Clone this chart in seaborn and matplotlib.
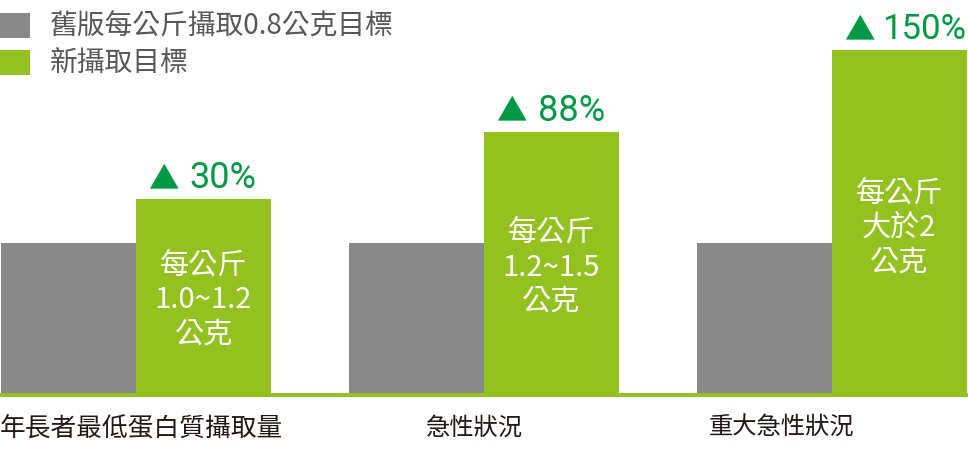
import matplotlib
matplotlib.use("Agg")
import matplotlib.pyplot as plt
import pandas as pd
import seaborn as sns

# data
categories = ["年長者最低蛋白質攝取量", "急性狀況", "重大急性狀況"]
series_names = ["舊版每公斤攝取0.8公克目標", "新攝取目標"]
old_values = [0.8, 0.8, 0.8]
new_values = [1.035, 1.394, 1.829]
increase_labels = ["30%", "88%", "150%"]
bar_texts = ["每公斤\n1.0~1.2\n公克", "每公斤\n1.2~1.5\n公克", "每公斤\n大於2\n公克"]

GRAY = "#898989"
GREEN = "#93c11f"
DARK_GREEN = "#009a44"

df = pd.DataFrame({
    "category": categories * 2,
    "series": [series_names[0]] * 3 + [series_names[1]] * 3,
    "value": old_values + new_values,
})

sns.set_style("white")
plt.rcParams["font.family"] = ["Noto Sans CJK TC", "DejaVu Sans"]

W, H = 968, 475
fig = plt.figure(figsize=(W / 100, H / 100), dpi=100)
ax = fig.add_axes([0, 78 / H, 1, 397 / H])

sns.barplot(data=df, x="category", y="value", hue="series", order=categories,
            hue_order=series_names, palette={series_names[0]: GRAY, series_names[1]: GREEN},
            width=0.776, gap=0, saturation=1, linewidth=0, ax=ax)

px_per_unit = 187.5
ax.set_xlim(-0.391, 2.391)
ax.set_ylim(-4 / px_per_unit, -4 / px_per_unit + 397 / px_per_unit)
ax.axhline(-2 / px_per_unit, color=GREEN, lw=2.9, zorder=1)
for s in ax.spines.values():
    s.set_visible(False)
ax.set_yticks([])
ax.set_ylabel("")
ax.set_xlabel("")

# category labels (offset like the original, not exactly centred)
ax.set_xticks([0.016, 0.973, 1.856])
ax.set_xticklabels(categories, color="#231815")
ax.tick_params(axis="x", length=0, pad=13)
for lbl, size in zip(ax.get_xticklabels(), [18.5, 17.5, 17.5]):
    lbl.set_fontsize(size)

# increase annotations and text inside the green bars
pct_offsets = [-14, -14, -17]
pct_sizes = [26, 26, 25]
for i, (h, pct, txt) in enumerate(zip(new_values, increase_labels, bar_texts)):
    xc = i + 0.194
    ax.annotate("▲", (xc, h), xytext=(-40, 11), textcoords="offset pixels",
                ha="center", va="baseline", fontsize=22, color=DARK_GREEN,
                family=["Noto Sans CJK TC", "DejaVu Sans"])
    ax.annotate(pct, (xc, h), xytext=(pct_offsets[i], 11), textcoords="offset pixels",
                ha="left", va="baseline", fontsize=pct_sizes[i], color=DARK_GREEN,
                family=["Roboto", "DejaVu Sans"])
    ax.text(xc, h * 0.48, txt, ha="center", va="center", fontsize=21,
            color="white", linespacing=1.2, fontweight="medium")

sns.move_legend(ax, "upper left", bbox_to_anchor=(0, 1 - 12 / H),
                bbox_transform=fig.transFigure, frameon=False, title=None,
                fontsize=20, labelcolor="#595757", handlelength=1.08,
                handleheight=1.04, handletextpad=0.72, labelspacing=0.25,
                borderpad=0, borderaxespad=0)

fig.savefig("out.png", dpi=100)
